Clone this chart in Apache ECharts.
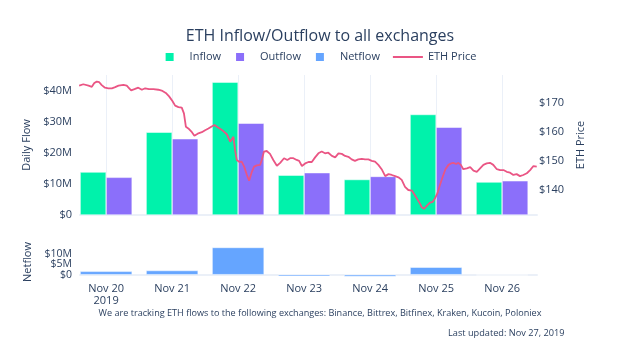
<!DOCTYPE html>
<html>
<head>
<meta charset="utf-8">
<script src="https://cdn.jsdelivr.net/npm/echarts@6/dist/echarts.min.js"></script>
<style>
html,body{margin:0;padding:0;background:#fff;}
#chart{width:640px;height:340px;}
</style>
</head>
<body>
<div id="chart"></div>
<script>
// ---- data ----
var dayHours = [0, 24, 48, 72, 96, 120, 144];            // hours since Nov 20 2019 00:00
var dayLabels = ['Nov 20\n2019', 'Nov 21', 'Nov 22', 'Nov 23', 'Nov 24', 'Nov 25', 'Nov 26'];
var inflow  = [13.8, 26.6, 42.7, 12.8, 11.4, 32.3, 10.6];   // $M
var outflow = [12.1, 24.5, 29.5, 13.6, 12.4, 28.2, 11.0];   // $M
var netflow = [1.6, 2.0, 13.1, -0.8, -0.9, 3.6, -0.3];       // $M
var flowTicks = [0, 10, 20, 30, 40];
var priceTicks = [140, 150, 160, 170];
var netTicksOuter = [0, 10];
var netTicksMiddle = [5];
var priceHours = [-9.8,-8.3,-6.4,-5.2,-4.3,-3.4,-2.5,-1.6,-0.4,0.8,2.1,3.3,4.5,6.3,7.5,8.4,9.1,10.3,11.7,13.0,14.2,15.6,17.2,19.0,20.5,21.7,22.9,24.1,25.1,26.3,27.5,28.3,29.0,29.9,31.2,32.1,33.3,34.8,36.0,37.2,38.4,39.4,40.3,42.1,43.9,45.1,46.3,46.9,47.5,48.5,49.3,50.2,51.2,52.0,53.0,53.8,54.8,56.0,56.6,57.4,58.4,59.6,60.8,62.1,63.3,64.7,65.9,66.9,68.1,69.3,70.2,71.2,72.4,73.6,74.8,76.0,77.2,78.4,79.6,80.8,82.1,83.3,84.5,85.7,86.9,88.1,89.3,90.5,91.7,93.0,94.2,95.4,96.6,97.8,99.0,100.2,101.5,102.7,103.9,105.1,106.3,107.5,108.7,109.9,111.2,112.0,113.0,114.2,114.8,115.6,116.6,117.8,118.8,119.6,120.5,121.4,122.4,123.4,124.5,125.4,126.3,127.3,128.1,129.0,129.9,131.2,132.4,133.6,134.8,136.0,137.2,138.4,139.6,140.8,142.1,143.3,144.5,145.7,146.9,148.1,149.3,150.5,151.7,153.0,154.2,155.4,156.6];
var priceValues = [176.1,176.6,176.1,175.7,177.0,177.5,177.3,176.3,175.4,175.2,175.2,175.6,176.1,176.4,176.1,175.2,174.5,174.9,175.4,174.7,175.2,174.9,174.9,174.7,174.3,173.6,172.4,170.8,169.2,168.7,168.5,166.5,161.9,161.3,160.0,158.8,159.5,160.0,160.7,161.3,162.0,162.5,161.9,160.8,159.3,156.7,158.4,153.8,150.4,149.7,149.8,148.1,145.2,143.2,146.3,148.1,148.5,148.7,150.4,153.3,153.5,152.5,150.4,148.4,149.4,151.0,150.4,151.0,151.0,150.4,150.1,148.3,149.2,149.7,149.7,151.3,152.7,153.3,152.7,152.9,151.8,151.3,152.7,152.5,151.8,151.5,150.6,150.1,150.6,150.8,150.6,150.6,150.1,149.8,148.7,147.2,144.8,145.5,145.2,144.8,144.4,143.5,141.1,140.0,139.8,138.6,137.1,135.2,134.0,133.5,134.5,135.6,135.9,137.1,138.9,141.7,144.6,147.2,148.7,149.2,149.4,149.0,149.4,148.7,147.2,147.5,147.9,146.7,146.3,147.5,148.7,149.2,149.4,148.7,147.2,146.9,146.9,146.3,146.0,145.2,145.5,144.8,145.2,145.8,146.9,148.3,148.1];
var titleText = 'ETH Inflow/Outflow to all exchanges';
var footerText = 'We are tracking ETH flows to the following exchanges: Binance, Bittrex, Bitfinex, Kraken, Kucoin, Poloniex';
var updatedText = 'Last updated: Nov 27, 2019';

// ---- chart ----
var FONT = '"Open Sans", sans-serif';
var TXT = '#2a3f5f';
var GRIDC = '#ebf0f8';
var C_IN = '#00f2ab', C_OUT = '#8b6ffa', C_NET = '#65a5ff', C_PRICE = '#ea5584';
var SQUARE = 'path://M0,0h10v10h-10z';
var LINEICON = 'path://M0,0h30v2h-30z';
var NET_MIN = -1.6, NET_MAX = 13.8;
function pairs(xs, ys) { return xs.map(function (x, i) { return [x, ys[i]]; }); }
function money(v) { return v === 0 ? '$0' : '$' + v + 'M'; }
function netAxis(ticks, withName) {
  return { type: 'value', gridIndex: 1, position: 'left', offset: 0, min: NET_MIN, max: NET_MAX,
    axisLine: { show: false }, axisTick: { show: false }, splitLine: { show: false },
    axisLabel: { customValues: ticks, margin: 8, fontFamily: FONT, fontSize: 10.5, color: TXT, lineHeight: 10,
      hideOverlap: false, showMinLabel: true, showMaxLabel: true, formatter: money },
    name: withName ? 'Netflow' : '', nameLocation: 'middle', nameGap: 37,
    nameTextStyle: { fontFamily: FONT, fontSize: 11, color: TXT } };
}

var chart = echarts.init(document.getElementById('chart'), null, { renderer: 'canvas' });
chart.setOption({
  animation: false,
  backgroundColor: '#fff',
  textStyle: { fontFamily: FONT },
  title: [
    { text: titleText, left: 'center', top: 27, padding: 0,
      textStyle: { fontFamily: FONT, fontSize: 16, fontWeight: 'normal', color: TXT, lineHeight: 18 } },
    { text: footerText, left: 'center', top: 308, padding: 0,
      textStyle: { fontFamily: FONT, fontSize: 9.1, fontWeight: 'normal', color: TXT, lineHeight: 11 } },
    { text: updatedText, left: 448, top: 328, padding: 0,
      textStyle: { fontFamily: FONT, fontSize: 9.2, fontWeight: 'normal', color: TXT, lineHeight: 11 } }
  ],
  legend: {
    top: 51, left: 'center', padding: 0, itemGap: 13, itemWidth: 30, itemHeight: 10,
    textStyle: { fontFamily: FONT, fontSize: 11, color: TXT },
    data: [
      { name: 'Inflow', icon: SQUARE },
      { name: 'Outflow', icon: SQUARE },
      { name: 'Netflow', icon: SQUARE },
      { name: 'ETH Price', icon: LINEICON }
    ]
  },
  grid: [
    { left: 80, top: 75, width: 457, height: 140 },
    { left: 80, top: 246, width: 457, height: 32 }
  ],
  xAxis: [
    { type: 'value', gridIndex: 0, min: -9.5, max: 156.7,
      axisLine: { show: true, onZero: false, lineStyle: { color: GRIDC, width: 2 } },
      axisTick: { show: false, customValues: dayHours },
      axisLabel: { show: false, customValues: dayHours },
      splitLine: { show: true, lineStyle: { color: GRIDC, width: 1 } } },
    { type: 'value', gridIndex: 1, min: -9.5, max: 156.7,
      axisLine: { show: true, onZero: true, onZeroAxisIndex: 2, lineStyle: { color: GRIDC, width: 2 } },
      axisTick: { show: false, customValues: dayHours },
      axisLabel: { customValues: dayHours, margin: 5, fontFamily: FONT, fontSize: 11, color: TXT, lineHeight: 12,
        formatter: function (v) { return dayLabels[dayHours.indexOf(v)] || ''; } },
      splitLine: { show: false } }
  ],
  yAxis: [
    { type: 'value', gridIndex: 0, min: 0, max: 45, interval: 10,
      axisLine: { show: false }, axisTick: { show: false }, splitLine: { show: false },
      axisLabel: { customValues: flowTicks, margin: 8, fontFamily: FONT, fontSize: 11, color: TXT, formatter: money },
      name: 'Daily Flow', nameLocation: 'middle', nameGap: 37,
      nameTextStyle: { fontFamily: FONT, fontSize: 11, color: TXT } },
    { type: 'value', gridIndex: 0, position: 'right', min: 131.35, max: 179.8,
      axisLine: { show: false }, axisTick: { show: false }, splitLine: { show: false },
      axisLabel: { customValues: priceTicks, margin: 2, fontFamily: FONT, fontSize: 11, color: TXT,
        formatter: function (v) { return '$' + v; } },
      name: 'ETH Price', nameLocation: 'middle', nameGap: 26,
      nameTextStyle: { fontFamily: FONT, fontSize: 11, color: TXT } },
    netAxis(netTicksOuter, true),
    netAxis(netTicksMiddle, false)
  ],
  series: [
    { name: 'Inflow', type: 'bar', xAxisIndex: 0, yAxisIndex: 0, barWidth: 26, barGap: '0%',
      itemStyle: { color: C_IN, borderColor: '#fff', borderWidth: 0.5 },
      data: pairs(dayHours, inflow) },
    { name: 'Outflow', type: 'bar', xAxisIndex: 0, yAxisIndex: 0, barWidth: 26, barGap: '0%',
      itemStyle: { color: C_OUT, borderColor: '#fff', borderWidth: 0.5 },
      data: pairs(dayHours, outflow) },
    { name: 'Netflow', type: 'bar', xAxisIndex: 1, yAxisIndex: 2, barWidth: 52,
      itemStyle: { color: C_NET, borderColor: '#fff', borderWidth: 0.5 },
      data: pairs(dayHours, netflow) },
    { name: 'ETH Price', type: 'line', xAxisIndex: 0, yAxisIndex: 1, symbol: 'none', z: 5,
      lineStyle: { color: C_PRICE, width: 1.8 }, itemStyle: { color: C_PRICE },
      data: pairs(priceHours, priceValues) }
  ]
});
</script>
</body>
</html>
